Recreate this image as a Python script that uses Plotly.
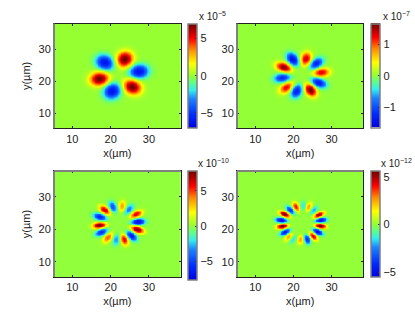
import numpy as np
import plotly.graph_objects as go

# Lobe centres (um) and peak values (in units of the colour bar exponent)
p1_x = [18.4, 23.6, 27.3, 25.6, 20.3, 17.0]
p1_y = [25.9, 26.9, 23.1, 18.3, 17.0, 20.8]
p1_peak = [-6.2, 7.0, -6.2, 7.0, -6.3, 7.0]

p2_x = [19.7, 23.2, 25.9, 27.2, 26.5, 24.4, 20.7, 18.1, 17.0, 17.4]
p2_y = [26.9, 27.0, 25.6, 22.8, 19.6, 17.3, 17.0, 18.1, 21.1, 24.4]
p2_peak = [-1.5, 1.35, -1.3, 1.3, -1.4, 1.65, -1.35, 1.25, -1.25, 1.6]

p3_x = [18.4, 20.5, 22.9, 24.7, 26.6, 27.1, 26.9, 25.4, 23.5, 21.4, 19.2, 17.5, 17.0, 17.1]
p3_y = [26.0, 27.0, 27.2, 26.2, 24.7, 22.4, 20.0, 18.0, 16.9, 16.9, 17.5, 19.2, 21.3, 23.9]
p3_peak = [6.5, -4.5, 3.5, -3.5, 6.0, -7.0, 7.5, -6.5, 6.0, -3.0, 4.5, -5.5, 7.7, -6.0]

p4_x = [20.6, 19.1, 17.6, 16.7, 17.0, 17.7, 18.7, 19.8, 21.7, 23.5, 25.1, 26.3, 27.0, 27.1, 26.6, 25.2, 23.9, 22.5]
p4_y = [27.0, 26.0, 24.7, 22.9, 21.0, 19.2, 17.7, 17.0, 16.9, 17.0, 17.9, 19.3, 21.1, 22.9, 24.5, 26.0, 27.0, 27.3]
p4_peak = [4.0, -4.0, 5.5, -5.0, 5.6, -4.5, 2.5, -1.5, 2.5, -4.0, 4.5, -5.0, 5.6, -5.0, 5.0, -2.0, 2.5, -1.5]

exponents = [-5, -7, -10, -12]
cbar_limits = [(-7.0, 7.0), (-1.65, 1.67), (-7.6, 7.8), (-5.5, 5.6)]
cbar_ticks = [[-5, 0, 5], [-1, 0, 1], [-5, 0, 5], [-5, 0, 5]]
axis_ticks = [10, 20, 30]

W, H = 415, 312
centre = (22.3, 22.0)
widths = [(2.5, 2.15), (2.15, 1.4), (1.75, 1.0), (1.5, 0.78)]
xr, yr = [5.2, 38.3], [5.3, 38.0]
px_panels = [(54, 180.7, 23.5, 128.3), (237, 363.3, 23.5, 128.3),
             (54, 180.7, 171, 277), (237, 363.3, 171, 277)]
px_bars = [(188.3, 23.5, 128), (371.3, 23.5, 127.5), (188.3, 171, 280), (371.3, 171, 277)]
px_exp = [(197, 16), (380.5, 16), (196, 163), (379, 163)]

scale = [[0, "rgb(0,0,225)"], [0.13, "rgb(0,45,255)"], [0.28, "rgb(30,130,255)"],
         [0.36, "rgb(50,235,240)"], [0.44, "rgb(100,255,130)"], [0.5, "rgb(150,255,50)"],
         [0.62, "rgb(255,255,0)"], [0.75, "rgb(255,140,0)"], [0.86, "rgb(255,0,0)"],
         [1, "rgb(110,0,0)"]]

gx = np.arange(5, 38.6, 0.2)
gy = np.arange(5, 38.6, 0.2)
X, Y = np.meshgrid(gx, gy)


def field(xs, ys, peaks, sr, st):
    z = np.zeros_like(X)
    for a, b, p in zip(xs, ys, peaks):
        ux, uy = a - centre[0], b - centre[1]
        n = np.hypot(ux, uy)
        ux, uy = ux / n, uy / n
        dr = (X - a) * ux + (Y - b) * uy
        dt = -(X - a) * uy + (Y - b) * ux
        q = (dr / sr) ** 2 + (dt / st) ** 2
        z += p * np.exp(-(q ** 1.15))
    return z


panels = [(p1_x, p1_y, p1_peak), (p2_x, p2_y, p2_peak), (p3_x, p3_y, p3_peak), (p4_x, p4_y, p4_peak)]
FONT = dict(family="Liberation Sans", size=11, color="#222222")
EXP_FONT = dict(family="Liberation Sans", size=10, color="#222222")
GRAY = "#808080"
fig = go.Figure()
layout = dict(width=W, height=H, margin=dict(l=0, r=0, t=0, b=0), paper_bgcolor="white",
              plot_bgcolor="white", font=FONT, showlegend=False)
shapes, annotations = [], []

for i, (pts, wd) in enumerate(zip(panels, widths)):
    n = "" if i == 0 else str(i + 1)
    l, r, t, b = px_panels[i]
    bx, bt, bb = px_bars[i]
    zmin, zmax = cbar_limits[i]
    fig.add_trace(go.Heatmap(
        x=gx, y=gy, z=field(pts[0], pts[1], pts[2], wd[0], wd[1]), zmin=zmin, zmax=zmax,
        colorscale=scale, zsmooth="best", xaxis="x" + n, yaxis="y" + n,
        colorbar=dict(x=bx / W, xanchor="left", xpad=0, ypad=0, thickness=9, thicknessmode="pixels",
                      len=(bb - bt) / H, lenmode="fraction", y=1 - (bt + bb) / 2 / H, yanchor="middle",
                      outlinecolor=GRAY, outlinewidth=1.5, tickvals=cbar_ticks[i], ticks="inside",
                      ticklen=2, tickcolor="#333333", tickfont=FONT)))
    common = dict(tickvals=axis_ticks, ticks="inside", ticklen=2, tickcolor="#222222", showline=True,
                  linecolor="#222222", linewidth=1, mirror="ticks", showgrid=False, zeroline=False,
                  tickfont=FONT)
    layout["xaxis" + n] = dict(common, domain=[l / W, r / W], range=xr, anchor="y" + n,
                               title=dict(text="x(µm)", font=FONT, standoff=5))
    yaxis = dict(common, domain=[1 - b / H, 1 - t / H], range=yr, anchor="x" + n)
    if i % 2 == 0:
        yaxis["title"] = dict(text="y(µm)", font=FONT, standoff=5)
    layout["yaxis" + n] = yaxis
    shapes.append(dict(type="line", xref="paper", yref="paper", x0=l / W, x1=l / W,
                       y0=1 - b / H, y1=1 - t / H, line=dict(color=GRAY, width=2)))
    if i >= 2:
        shapes.append(dict(type="line", xref="paper", yref="paper", x0=l / W, x1=r / W,
                           y0=1 - t / H, y1=1 - t / H, line=dict(color=GRAY, width=2)))
    ex, ey = px_exp[i]
    annotations.append(dict(text="x 10<sup>\u2212%d</sup>" % abs(exponents[i]), xref="paper", yref="paper",
                            x=ex / W, y=1 - ey / H, xanchor="left", yanchor="middle",
                            showarrow=False, font=EXP_FONT))

fig.update_layout(**layout, shapes=shapes, annotations=annotations)
fig.write_html("out.html", config={"displayModeBar": False},
               post_script="document.body.style.margin='0';document.body.style.overflow='hidden';")
